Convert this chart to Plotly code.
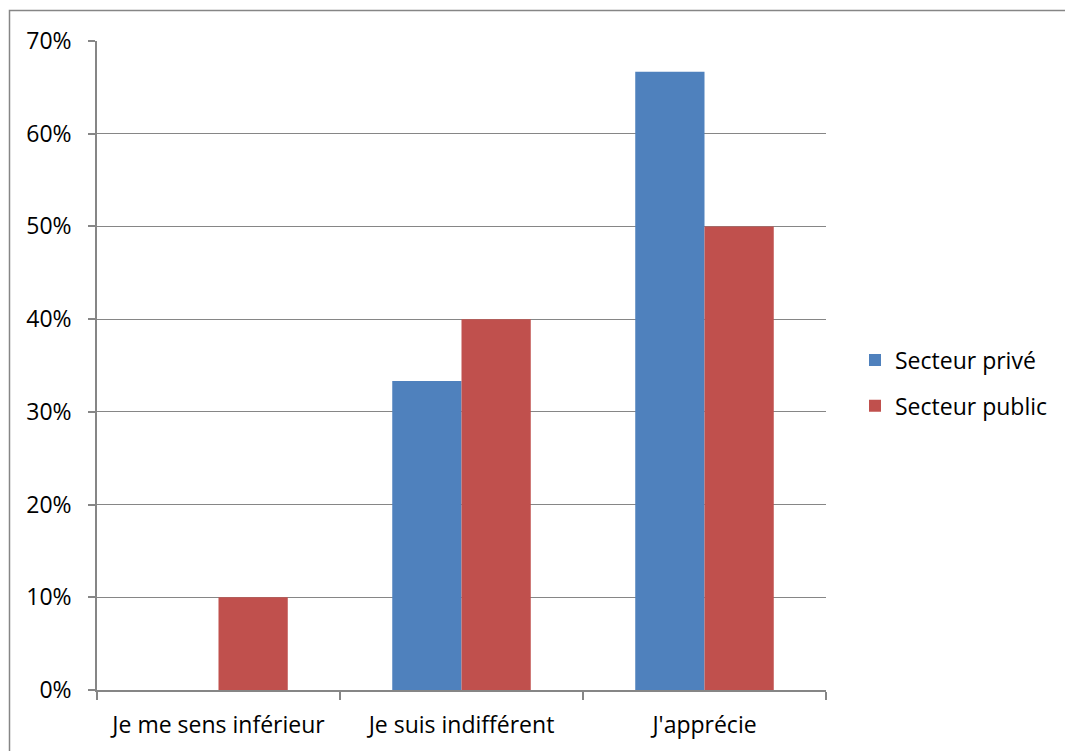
import plotly.graph_objects as go

# Survey responses by sector
categories = ["Je me sens inférieur", "Je suis indifférent", "J'apprécie"]
prive = [0.0, 0.3333, 0.6667]
public = [0.10, 0.40, 0.50]
series_names = ["Secteur privé", "Secteur public"]
y_ticks = [0, 0.1, 0.2, 0.3, 0.4, 0.5, 0.6, 0.7]

BLUE = "#4F81BD"
RED = "#C0504D"
GRID = "#868686"
FONT = "Open Sans"
FSIZE = 23

fig = go.Figure()
fig.add_trace(go.Bar(x=categories, y=prive, name=series_names[0],
                     marker=dict(color=BLUE, line=dict(width=0)),
                     legendgroup="a"))
fig.add_trace(go.Bar(x=categories, y=public, name=series_names[1],
                     marker=dict(color=RED, line=dict(width=0)),
                     legendgroup="b"))

W, H = 1065, 751
L, R, T, B = 97, 239, 41, 61
pw, ph = W - L - R, H - T - B

def px_x(x):
    return (x - L) / pw

def px_y(y):
    return (H - B - y) / ph

fig.update_layout(
    width=W, height=H,
    margin=dict(l=L, r=R, t=T, b=B, autoexpand=False),
    paper_bgcolor="white", plot_bgcolor="white",
    barmode="group", bargap=0.43, bargroupgap=0,
    font=dict(family=FONT, size=FSIZE, color="#000000"),
    showlegend=True,
    legend=dict(x=px_x(855), y=px_y(383), xanchor="left", yanchor="middle",
                traceorder="grouped", tracegroupgap=13,
                font=dict(family=FONT, size=FSIZE)),
    xaxis=dict(showline=True, linecolor=GRID, linewidth=1.5,
               ticks="outside", tickson="boundaries", ticklen=8,
               tickcolor=GRID, tickwidth=1.5, showgrid=False,
               ticklabelstandoff=14, fixedrange=True),
    yaxis=dict(range=[0, 0.7], tickvals=y_ticks, tickformat=".0%",
               showline=True, linecolor=GRID, linewidth=1.5,
               showgrid=True, gridcolor=GRID, gridwidth=1.2,
               ticks="outside", ticklen=7, tickcolor=GRID, tickwidth=1.5,
               ticklabelstandoff=12, zeroline=False, fixedrange=True),
    shapes=[dict(type="rect", xref="paper", yref="paper",
                 x0=px_x(9.5), x1=px_x(1075), y0=px_y(760), y1=px_y(10.5),
                 line=dict(color=GRID, width=1.5), fillcolor="rgba(0,0,0,0)",
                 layer="below")],
)

fig.write_html("out.html")
